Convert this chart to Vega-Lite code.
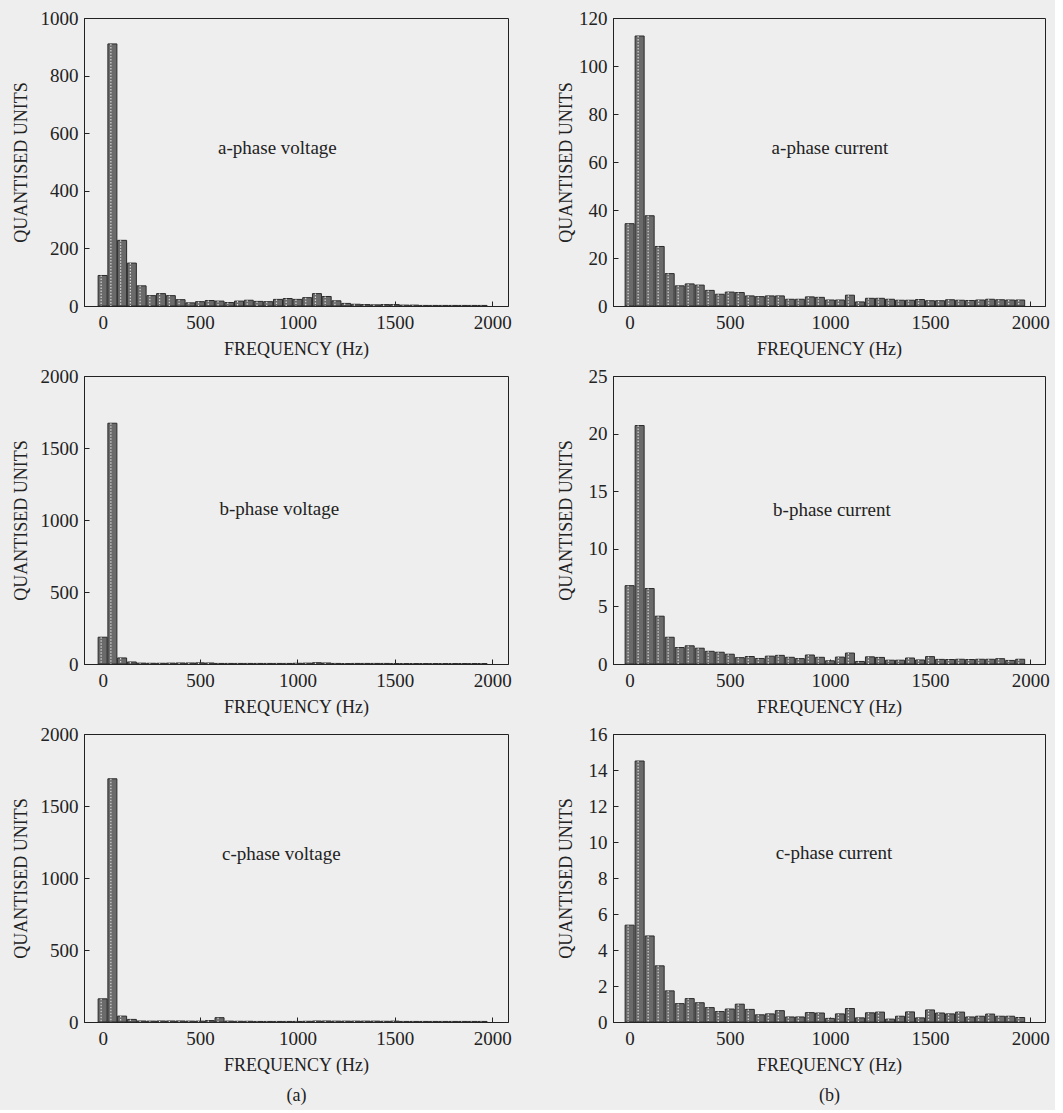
{
  "$schema": "https://vega.github.io/schema/vega-lite/v6.json",
  "background": "#eeeeee",
  "padding": {"left": 11, "top": 8, "right": 5, "bottom": 5},
  "bounds": "flush",
  "columns": 2,
  "spacing": {"row": 70, "column": 105},
  "datasets": {
    "av": [{"f":0,"v":106},{"f":50,"v":910},{"f":100,"v":228},{"f":150,"v":149},{"f":200,"v":70},{"f":250,"v":36},{"f":300,"v":43},{"f":350,"v":36},{"f":400,"v":22},{"f":450,"v":11},{"f":500,"v":15},{"f":550,"v":19},{"f":600,"v":17},{"f":650,"v":12},{"f":700,"v":17},{"f":750,"v":20},{"f":800,"v":16},{"f":850,"v":15},{"f":900,"v":23},{"f":950,"v":26},{"f":1000,"v":23},{"f":1050,"v":29},{"f":1100,"v":43},{"f":1150,"v":33},{"f":1200,"v":18},{"f":1250,"v":9},{"f":1300,"v":6},{"f":1350,"v":5},{"f":1400,"v":4},{"f":1450,"v":5},{"f":1500,"v":5},{"f":1550,"v":3},{"f":1600,"v":3},{"f":1650,"v":2},{"f":1700,"v":2},{"f":1750,"v":2},{"f":1800,"v":2},{"f":1850,"v":2},{"f":1900,"v":2},{"f":1950,"v":2}],
    "ac": [{"f":0,"v":34.3},{"f":50,"v":112.5},{"f":100,"v":37.6},{"f":150,"v":24.8},{"f":200,"v":13.5},{"f":250,"v":8.4},{"f":300,"v":9.2},{"f":350,"v":8.7},{"f":400,"v":6.5},{"f":450,"v":4.9},{"f":500,"v":5.8},{"f":550,"v":5.6},{"f":600,"v":4.2},{"f":650,"v":3.9},{"f":700,"v":4.2},{"f":750,"v":4.2},{"f":800,"v":2.8},{"f":850,"v":2.8},{"f":900,"v":3.8},{"f":950,"v":3.6},{"f":1000,"v":2.5},{"f":1050,"v":2.5},{"f":1100,"v":4.5},{"f":1150,"v":1.7},{"f":1200,"v":3.2},{"f":1250,"v":3.2},{"f":1300,"v":2.8},{"f":1350,"v":2.4},{"f":1400,"v":2.4},{"f":1450,"v":2.7},{"f":1500,"v":2.2},{"f":1550,"v":2.2},{"f":1600,"v":2.6},{"f":1650,"v":2.4},{"f":1700,"v":2.3},{"f":1750,"v":2.5},{"f":1800,"v":2.8},{"f":1850,"v":2.6},{"f":1900,"v":2.5},{"f":1950,"v":2.5}],
    "bv": [{"f":0,"v":186},{"f":50,"v":1672},{"f":100,"v":42},{"f":150,"v":14},{"f":200,"v":6},{"f":250,"v":5},{"f":300,"v":5},{"f":350,"v":6},{"f":400,"v":7},{"f":450,"v":7},{"f":500,"v":8},{"f":550,"v":7},{"f":600,"v":4},{"f":650,"v":4},{"f":700,"v":4},{"f":750,"v":4},{"f":800,"v":4},{"f":850,"v":4},{"f":900,"v":4},{"f":950,"v":4},{"f":1000,"v":5},{"f":1050,"v":6},{"f":1100,"v":9},{"f":1150,"v":7},{"f":1200,"v":4},{"f":1250,"v":3},{"f":1300,"v":4},{"f":1350,"v":4},{"f":1400,"v":4},{"f":1450,"v":4},{"f":1500,"v":3},{"f":1550,"v":3},{"f":1600,"v":3},{"f":1650,"v":3},{"f":1700,"v":3},{"f":1750,"v":3},{"f":1800,"v":3},{"f":1850,"v":3},{"f":1900,"v":3},{"f":1950,"v":3}],
    "bc": [{"f":0,"v":6.8},{"f":50,"v":20.7},{"f":100,"v":6.55},{"f":150,"v":4.15},{"f":200,"v":2.32},{"f":250,"v":1.43},{"f":300,"v":1.58},{"f":350,"v":1.37},{"f":400,"v":1.1},{"f":450,"v":1.02},{"f":500,"v":0.85},{"f":550,"v":0.55},{"f":600,"v":0.65},{"f":650,"v":0.48},{"f":700,"v":0.68},{"f":750,"v":0.75},{"f":800,"v":0.58},{"f":850,"v":0.47},{"f":900,"v":0.78},{"f":950,"v":0.58},{"f":1000,"v":0.28},{"f":1050,"v":0.6},{"f":1100,"v":0.95},{"f":1150,"v":0.22},{"f":1200,"v":0.62},{"f":1250,"v":0.57},{"f":1300,"v":0.33},{"f":1350,"v":0.33},{"f":1400,"v":0.52},{"f":1450,"v":0.35},{"f":1500,"v":0.64},{"f":1550,"v":0.4},{"f":1600,"v":0.39},{"f":1650,"v":0.41},{"f":1700,"v":0.39},{"f":1750,"v":0.41},{"f":1800,"v":0.41},{"f":1850,"v":0.46},{"f":1900,"v":0.31},{"f":1950,"v":0.41}],
    "cv": [{"f":0,"v":161},{"f":50,"v":1689},{"f":100,"v":41},{"f":150,"v":18},{"f":200,"v":7},{"f":250,"v":6},{"f":300,"v":7},{"f":350,"v":7},{"f":400,"v":7},{"f":450,"v":6},{"f":500,"v":6},{"f":550,"v":10},{"f":600,"v":30},{"f":650,"v":6},{"f":700,"v":5},{"f":750,"v":5},{"f":800,"v":4},{"f":850,"v":4},{"f":900,"v":4},{"f":950,"v":4},{"f":1000,"v":4},{"f":1050,"v":5},{"f":1100,"v":7},{"f":1150,"v":7},{"f":1200,"v":6},{"f":1250,"v":6},{"f":1300,"v":6},{"f":1350,"v":6},{"f":1400,"v":6},{"f":1450,"v":5},{"f":1500,"v":6},{"f":1550,"v":4},{"f":1600,"v":4},{"f":1650,"v":4},{"f":1700,"v":4},{"f":1750,"v":4},{"f":1800,"v":4},{"f":1850,"v":4},{"f":1900,"v":4},{"f":1950,"v":4}],
    "cc": [{"f":0,"v":5.38},{"f":50,"v":14.5},{"f":100,"v":4.78},{"f":150,"v":3.12},{"f":200,"v":1.73},{"f":250,"v":1.02},{"f":300,"v":1.3},{"f":350,"v":1.07},{"f":400,"v":0.8},{"f":450,"v":0.58},{"f":500,"v":0.72},{"f":550,"v":0.99},{"f":600,"v":0.7},{"f":650,"v":0.4},{"f":700,"v":0.45},{"f":750,"v":0.63},{"f":800,"v":0.28},{"f":850,"v":0.28},{"f":900,"v":0.52},{"f":950,"v":0.5},{"f":1000,"v":0.2},{"f":1050,"v":0.45},{"f":1100,"v":0.75},{"f":1150,"v":0.23},{"f":1200,"v":0.51},{"f":1250,"v":0.55},{"f":1300,"v":0.16},{"f":1350,"v":0.32},{"f":1400,"v":0.56},{"f":1450,"v":0.23},{"f":1500,"v":0.67},{"f":1550,"v":0.5},{"f":1600,"v":0.45},{"f":1650,"v":0.55},{"f":1700,"v":0.28},{"f":1750,"v":0.32},{"f":1800,"v":0.44},{"f":1850,"v":0.32},{"f":1900,"v":0.32},{"f":1950,"v":0.25}]
  },
  "concat": [
    {
      "width": 424, "height": 288,
      "layer": [
        {"data": {"name": "av"}, "mark": {"type": "bar", "orient": "vertical", "width": 9, "fill": "#6a6a6a", "stroke": "#2a2a2a", "strokeWidth": 1},
         "encoding": {
           "x": {"field": "f", "type": "quantitative", "scale": {"domain": [-70, 2055], "nice": false, "zero": false}, "axis": {"title": "FREQUENCY (Hz)", "values": [0, 500, 1000, 1500, 2000]}},
           "y": {"field": "v", "type": "quantitative", "scale": {"domain": [0, 1000], "nice": false}, "axis": {"title": "QUANTISED UNITS", "values": [0, 200, 400, 600, 800, 1000], "labelOverlap": false, "titlePadding": 10, "minExtent": 44, "maxExtent": 44}}
         }},
        {"data": {"name": "av"}, "mark": {"type": "rule", "stroke": "#d8d8d8", "strokeWidth": 1.2, "strokeDash": [1.5, 1.5], "xOffset": -1.5},
         "encoding": {"x": {"field": "f", "type": "quantitative"}, "y": {"field": "v", "type": "quantitative"}, "y2": {"datum": 0}}},
        {"data": {"values": [{"label": "a-phase voltage", "f": 897, "v": 549}]}, "mark": {"type": "text", "font": "Liberation Serif", "fontSize": 19, "color": "#222222"},
         "encoding": {"x": {"field": "f", "type": "quantitative"}, "y": {"field": "v", "type": "quantitative"}, "text": {"field": "label"}}}
      ]
    },
    {
      "width": 432, "height": 288,
      "layer": [
        {"data": {"name": "ac"}, "mark": {"type": "bar", "orient": "vertical", "width": 9, "fill": "#6a6a6a", "stroke": "#2a2a2a", "strokeWidth": 1},
         "encoding": {
           "x": {"field": "f", "type": "quantitative", "scale": {"domain": [-58, 2049], "nice": false, "zero": false}, "axis": {"title": "FREQUENCY (Hz)", "values": [0, 500, 1000, 1500, 2000]}},
           "y": {"field": "v", "type": "quantitative", "scale": {"domain": [0, 120], "nice": false}, "axis": {"title": "QUANTISED UNITS", "values": [0, 20, 40, 60, 80, 100, 120], "labelOverlap": false, "titlePadding": 3, "minExtent": 35, "maxExtent": 35}}
         }},
        {"data": {"name": "ac"}, "mark": {"type": "rule", "stroke": "#d8d8d8", "strokeWidth": 1.2, "strokeDash": [1.5, 1.5], "xOffset": -1.5},
         "encoding": {"x": {"field": "f", "type": "quantitative"}, "y": {"field": "v", "type": "quantitative"}, "y2": {"datum": 0}}},
        {"data": {"values": [{"label": "a-phase current", "f": 1000, "v": 65.7}]}, "mark": {"type": "text", "font": "Liberation Serif", "fontSize": 19, "color": "#222222"},
         "encoding": {"x": {"field": "f", "type": "quantitative"}, "y": {"field": "v", "type": "quantitative"}, "text": {"field": "label"}}}
      ]
    },
    {
      "width": 424, "height": 288,
      "layer": [
        {"data": {"name": "bv"}, "mark": {"type": "bar", "orient": "vertical", "width": 9, "fill": "#6a6a6a", "stroke": "#2a2a2a", "strokeWidth": 1},
         "encoding": {
           "x": {"field": "f", "type": "quantitative", "scale": {"domain": [-70, 2055], "nice": false, "zero": false}, "axis": {"title": "FREQUENCY (Hz)", "values": [0, 500, 1000, 1500, 2000]}},
           "y": {"field": "v", "type": "quantitative", "scale": {"domain": [0, 2000], "nice": false}, "axis": {"title": "QUANTISED UNITS", "values": [0, 500, 1000, 1500, 2000], "labelOverlap": false, "titlePadding": 10, "minExtent": 44, "maxExtent": 44}}
         }},
        {"data": {"name": "bv"}, "mark": {"type": "rule", "stroke": "#d8d8d8", "strokeWidth": 1.2, "strokeDash": [1.5, 1.5], "xOffset": -1.5},
         "encoding": {"x": {"field": "f", "type": "quantitative"}, "y": {"field": "v", "type": "quantitative"}, "y2": {"datum": 0}}},
        {"data": {"values": [{"label": "b-phase voltage", "f": 907, "v": 1073}]}, "mark": {"type": "text", "font": "Liberation Serif", "fontSize": 19, "color": "#222222"},
         "encoding": {"x": {"field": "f", "type": "quantitative"}, "y": {"field": "v", "type": "quantitative"}, "text": {"field": "label"}}}
      ]
    },
    {
      "width": 432, "height": 288,
      "layer": [
        {"data": {"name": "bc"}, "mark": {"type": "bar", "orient": "vertical", "width": 9, "fill": "#6a6a6a", "stroke": "#2a2a2a", "strokeWidth": 1},
         "encoding": {
           "x": {"field": "f", "type": "quantitative", "scale": {"domain": [-58, 2049], "nice": false, "zero": false}, "axis": {"title": "FREQUENCY (Hz)", "values": [0, 500, 1000, 1500, 2000]}},
           "y": {"field": "v", "type": "quantitative", "scale": {"domain": [0, 25], "nice": false}, "axis": {"title": "QUANTISED UNITS", "values": [0, 5, 10, 15, 20, 25], "labelOverlap": false, "titlePadding": 3, "minExtent": 35, "maxExtent": 35}}
         }},
        {"data": {"name": "bc"}, "mark": {"type": "rule", "stroke": "#d8d8d8", "strokeWidth": 1.2, "strokeDash": [1.5, 1.5], "xOffset": -1.5},
         "encoding": {"x": {"field": "f", "type": "quantitative"}, "y": {"field": "v", "type": "quantitative"}, "y2": {"datum": 0}}},
        {"data": {"values": [{"label": "b-phase current", "f": 1010, "v": 13.4}]}, "mark": {"type": "text", "font": "Liberation Serif", "fontSize": 19, "color": "#222222"},
         "encoding": {"x": {"field": "f", "type": "quantitative"}, "y": {"field": "v", "type": "quantitative"}, "text": {"field": "label"}}}
      ]
    },
    {
      "width": 424, "height": 288,
      "layer": [
        {"data": {"name": "cv"}, "mark": {"type": "bar", "orient": "vertical", "width": 9, "fill": "#6a6a6a", "stroke": "#2a2a2a", "strokeWidth": 1},
         "encoding": {
           "x": {"field": "f", "type": "quantitative", "scale": {"domain": [-70, 2055], "nice": false, "zero": false}, "axis": {"title": ["FREQUENCY (Hz)", "(a)"], "values": [0, 500, 1000, 1500, 2000]}},
           "y": {"field": "v", "type": "quantitative", "scale": {"domain": [0, 2000], "nice": false}, "axis": {"title": "QUANTISED UNITS", "values": [0, 500, 1000, 1500, 2000], "labelOverlap": false, "titlePadding": 10, "minExtent": 44, "maxExtent": 44}}
         }},
        {"data": {"name": "cv"}, "mark": {"type": "rule", "stroke": "#d8d8d8", "strokeWidth": 1.2, "strokeDash": [1.5, 1.5], "xOffset": -1.5},
         "encoding": {"x": {"field": "f", "type": "quantitative"}, "y": {"field": "v", "type": "quantitative"}, "y2": {"datum": 0}}},
        {"data": {"values": [{"label": "c-phase voltage", "f": 917, "v": 1166}]}, "mark": {"type": "text", "font": "Liberation Serif", "fontSize": 19, "color": "#222222"},
         "encoding": {"x": {"field": "f", "type": "quantitative"}, "y": {"field": "v", "type": "quantitative"}, "text": {"field": "label"}}}
      ]
    },
    {
      "width": 432, "height": 288,
      "layer": [
        {"data": {"name": "cc"}, "mark": {"type": "bar", "orient": "vertical", "width": 9, "fill": "#6a6a6a", "stroke": "#2a2a2a", "strokeWidth": 1},
         "encoding": {
           "x": {"field": "f", "type": "quantitative", "scale": {"domain": [-58, 2049], "nice": false, "zero": false}, "axis": {"title": ["FREQUENCY (Hz)", "(b)"], "values": [0, 500, 1000, 1500, 2000]}},
           "y": {"field": "v", "type": "quantitative", "scale": {"domain": [0, 16], "nice": false}, "axis": {"title": "QUANTISED UNITS", "values": [0, 2, 4, 6, 8, 10, 12, 14, 16], "labelOverlap": false, "tickCount": 9, "titlePadding": 3, "minExtent": 35, "maxExtent": 35}}
         }},
        {"data": {"name": "cc"}, "mark": {"type": "rule", "stroke": "#d8d8d8", "strokeWidth": 1.2, "strokeDash": [1.5, 1.5], "xOffset": -1.5},
         "encoding": {"x": {"field": "f", "type": "quantitative"}, "y": {"field": "v", "type": "quantitative"}, "y2": {"datum": 0}}},
        {"data": {"values": [{"label": "c-phase current", "f": 1020, "v": 9.4}]}, "mark": {"type": "text", "font": "Liberation Serif", "fontSize": 19, "color": "#222222"},
         "encoding": {"x": {"field": "f", "type": "quantitative"}, "y": {"field": "v", "type": "quantitative"}, "text": {"field": "label"}}}
      ]
    }
  ],
  "config": {
    "view": {"stroke": "#222222", "strokeWidth": 1},
    "axis": {
      "labelFont": "Liberation Serif", "titleFont": "Liberation Serif",
      "labelFontSize": 19, "titleFontSize": 18, "titleFontWeight": "normal",
      "labelColor": "#222222", "titleColor": "#222222",
      "domainColor": "#222222", "tickColor": "#222222",
      "grid": false, "tickSize": -5, "labelPadding": 11, "titleLineHeight": 30,
      "format": "d", "labelOverlap": false
    },
    "axisX": {"labelPadding": 12, "titlePadding": 8, "labelFlush": false},
    "axisY": {"labelFlush": false}
  }
}
